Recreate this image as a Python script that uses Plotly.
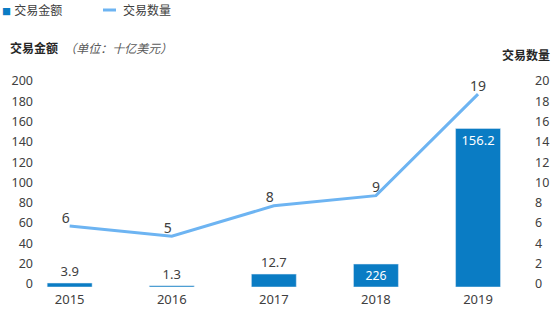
import plotly.graph_objects as go

years = ["2015", "2016", "2017", "2018", "2019"]
amount = [3.9, 1.3, 12.7, 22.6, 156.2]
amount_labels = ["3.9", "1.3", "12.7", "226", "156.2"]
count = [6, 5, 8, 9, 19]
count_labels = ["6", "5", "8", "9", "19"]
left_ticks = list(range(0, 201, 20))
right_ticks = list(range(0, 21, 2))

BAR = "#0a7cc4"
LINE = "#6db4f2"
TXT = "#404040"
FONT = "Noto Sans, Noto Sans CJK SC, sans-serif"

fig = go.Figure()
fig.add_trace(go.Bar(
    x=years, y=amount, name="交易金额", marker_color=BAR, width=0.44,
    text=amount_labels, texttemplate="%{text}",
    textposition=["outside", "outside", "outside", "inside", "inside"],
    insidetextanchor="end",
    insidetextfont=dict(color="white", size=13, family=FONT),
    outsidetextfont=dict(color=TXT, size=13, family=FONT),
    cliponaxis=False, yaxis="y",
))
fig.add_trace(go.Scatter(
    x=years, y=count, name="交易数量", mode="lines+text",
    line=dict(color=LINE, width=3),
    text=count_labels,
    textposition=["top left", "top left", "top left", "top center", "top center"],
    textfont=dict(color=TXT, size=14, family=FONT),
    cliponaxis=False, yaxis="y2",
))

fig.update_layout(
    width=554, height=310,
    margin=dict(l=38, r=29, t=84, b=23),
    paper_bgcolor="white", plot_bgcolor="white",
    showlegend=False,
    font=dict(family=FONT, size=12, color=TXT),
    xaxis=dict(type="category", range=[-0.31, 4.46], showgrid=False,
               showline=False, zeroline=False, ticks="", automargin=False,
               ticklabelstandoff=3,
               tickfont=dict(size=13, color=TXT)),
    yaxis=dict(range=[0, 200], tickvals=left_ticks, showgrid=False,
               zeroline=False, showline=False, ticks="", ticklabelshift=-3,
               ticklabelstandoff=4,
               automargin=False, tickfont=dict(size=12.5, color=TXT)),
    yaxis2=dict(range=[0, 20], tickvals=right_ticks, overlaying="y", side="right",
                showgrid=False, zeroline=False, showline=False, ticks="",
                ticklabelshift=-3, ticklabelstandoff=9, automargin=False,
                tickfont=dict(size=12.5, color=TXT)),
)

annotations = [
    dict(x=0, y=1, xref="paper", yref="paper", xanchor="left", yanchor="top",
         xshift=-38, yshift=84,
         text=f"<span style='color:{BAR};font-size:9px'>■</span> 交易金额",
         showarrow=False, font=dict(size=12, color=TXT, family=FONT)),
    dict(x=0, y=1, xref="paper", yref="paper", xanchor="left", yanchor="top",
         xshift=-38 + 121, yshift=84,
         text="交易数量",
         showarrow=False, font=dict(size=12, color=TXT, family=FONT)),
    dict(x=0, y=1, xref="paper", yref="paper", xanchor="left", yanchor="middle",
         xshift=-30, yshift=84 - 48,
         text="<b>交易金额</b>  <i><span style='color:#595959'>（单位：十亿美元）</span></i>",
         showarrow=False, font=dict(size=12, color="#262626", family=FONT)),
    dict(x=1, y=1, xref="paper", yref="paper", xanchor="right", yanchor="middle",
         xshift=27, yshift=84 - 55,
         text="<b>交易数量</b>",
         showarrow=False, font=dict(size=12, color="#262626", family=FONT)),
]
shapes = [
    dict(type="line", xref="paper", yref="paper",
         xsizemode="pixel", ysizemode="pixel", xanchor=0, yanchor=1,
         x0=103 - 38, x1=116 - 38, y0=84 - 10, y1=84 - 10,
         line=dict(color=LINE, width=3)),
]
fig.update_layout(annotations=annotations, shapes=shapes)

fig.write_html("out.html")
